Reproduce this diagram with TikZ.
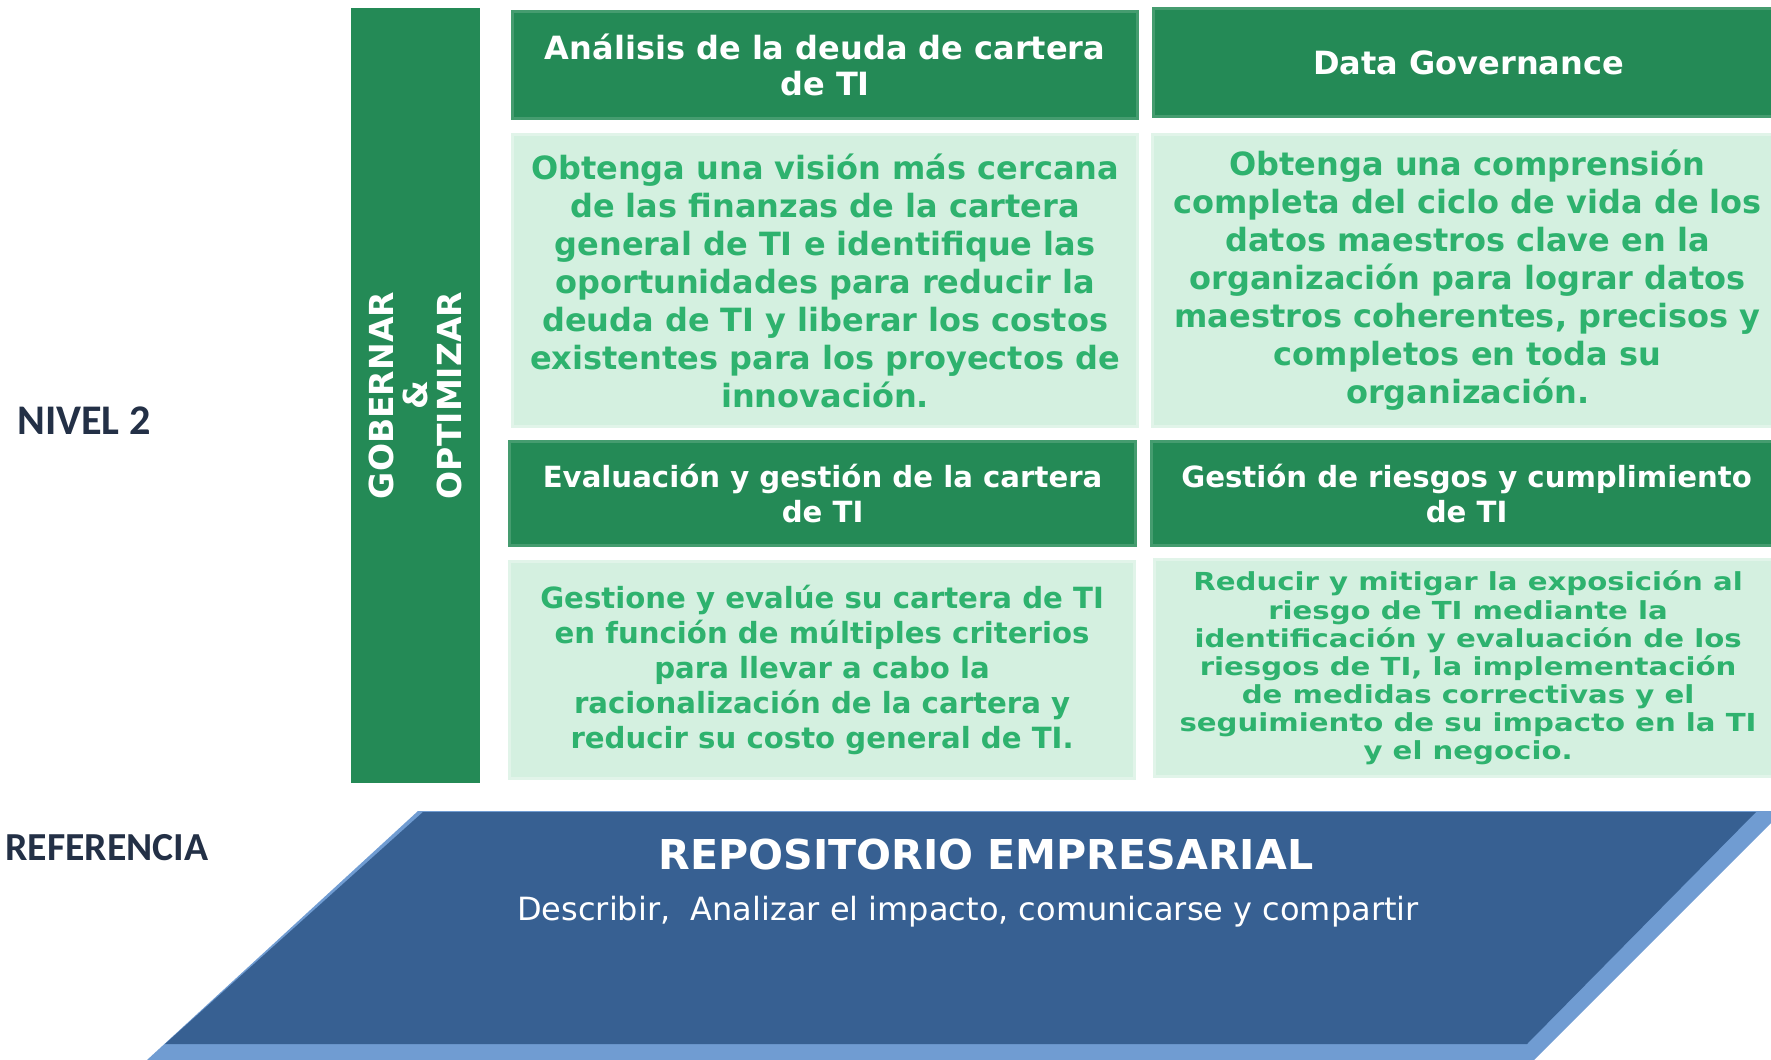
\documentclass[tikz,border=0pt]{standalone}
\usepackage{fontspec}
\setmainfont{DejaVu Sans}
\newfontfamily\calibri{Carlito}
\usepackage{graphicx}
\usepackage{xcolor}
\usetikzlibrary{positioning}
\definecolor{verdeosc}{RGB}{36,138,86}
\definecolor{verdeclaro}{RGB}{212,240,224}
\definecolor{verdetexto}{RGB}{46,178,110}
\definecolor{azulrepo}{RGB}{55,96,146}
\definecolor{azulbisel}{RGB}{112,156,210}
\definecolor{azulnivel}{RGB}{35,48,70}
\tikzset{
	cabecera/.style={fill=verdeosc, draw=verdeosc!85!white, line width=0.8pt, anchor=north west, inner sep=0pt, text=white, align=center, font=\bfseries\fontsize{9.1}{10.5}\selectfont},
	detalle/.style={fill=verdeclaro, draw=verdeclaro!70!white, line width=0.8pt, anchor=north west, inner sep=0pt, text=verdetexto, align=center, font=\bfseries\fontsize{9.1}{10.8}\selectfont},
	nivel/.style={text=azulnivel, font=\calibri\bfseries\fontsize{12}{14}\selectfont}
}

\begin{document}
\begin{tikzpicture}[x=0.01cm,y=-0.01cm]
	\useasboundingbox (0,0) rectangle (1771,1060);
	\clip (0,0) rectangle (1771,1060);
	% etiquetas de nivel
	\node[nivel] (nivel) at (84,421) {NIVEL 2};
	\node[nivel, font=\calibri\bfseries\fontsize{11.3}{14}\selectfont] (referencia) at (107,848) {REFERENCIA};
	% barra vertical
	\node[fill=verdeosc, anchor=north west, minimum width=1.29cm, minimum height=7.75cm, inner sep=0pt] (barra) at (350,7) {};
	\node[rotate=90, text=white, align=center, font=\bfseries\fontsize{9.4}{9.7}\selectfont] (gobernar) at (barra.center) {GOBERNAR\\\&\\OPTIMIZAR};
	% cabeceras
	\node[cabecera, minimum width=6.25cm, minimum height=1.07cm] (analisis) at (511,10) {Análisis de la deuda de cartera\\de TI};
	\node[cabecera, minimum width=6.3cm, minimum height=1.08cm] (datagov) at (1152,7) {Data Governance};
	\node[cabecera, minimum width=6.26cm, minimum height=1.04cm, font=\bfseries\fontsize{8.3}{10}\selectfont] (evaluacion) at (508,440) {Evaluación y gestión de la cartera\\de TI};
	\node[cabecera, minimum width=6.3cm, minimum height=1.04cm, font=\bfseries\fontsize{8.3}{10}\selectfont] (riesgos) at (1150,440) {Gestión de riesgos y cumplimiento\\de TI};
	% cajas de texto
	\node[detalle, minimum width=6.25cm, minimum height=2.92cm] (textoanalisis) at (511,133) {Obtenga una visión más cercana\\de las finanzas de la cartera\\general de TI e identifique las\\oportunidades para reducir la\\deuda de TI y liberar los costos\\existentes para los proyectos de\\innovación.};
	\node[detalle, minimum width=6.3cm, minimum height=2.92cm] (textodatagov) at (1151,133) {Obtenga una comprensión\\completa del ciclo de vida de los\\datos maestros clave en la\\organización para lograr datos\\maestros coherentes, precisos y\\completos en toda su\\organización.};
	\node[detalle, minimum width=6.25cm, minimum height=2.17cm, font=\bfseries\fontsize{8.3}{10}\selectfont] (textoevaluacion) at (508,560) {Gestione y evalúe su cartera de TI\\en función de múltiples criterios\\para llevar a cabo la\\racionalización de la cartera y\\reducir su costo general de TI.};
	\node[detalle, minimum width=6.27cm, minimum height=2.17cm, font=\bfseries\fontsize{8.3}{9.4}\selectfont] (textoriesgos) at (1153,558) {\scalebox{1}[0.85]{\parbox{6.2cm}{\centering Reducir y mitigar la exposición al\\riesgo de TI mediante la\\identificación y evaluación de los\\riesgos de TI, la implementación\\de medidas correctivas y el\\seguimiento de su impacto en la TI\\y el negocio.}}};
	% repositorio
	\fill[azulbisel] (418,811) -- (1783,811) -- (1534,1060) -- (147,1060) -- cycle; 	% bisel
	\fill[azulrepo] (423,812) -- (1756,812) -- (1527,1044) -- (165,1044) -- cycle; 	% cara
	\node[text=white, font=\bfseries\fontsize{11.7}{14}\selectfont] (repositorio) at (986,855) {REPOSITORIO EMPRESARIAL};
	\node[text=white, font=\fontsize{9.1}{11}\selectfont] (describir) at (968,912) {Describir,\ \ Analizar el impacto, comunicarse y compartir};
\end{tikzpicture}
\end{document}
